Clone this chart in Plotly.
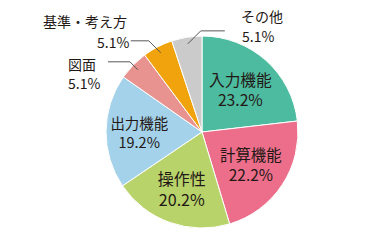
import math
import plotly.graph_objects as go

labels = ["入力機能", "計算機能", "操作性", "出力機能", "図面", "基準・考え方", "その他"]
values = [23.2, 22.2, 20.2, 19.2, 5.1, 5.1, 5.1]
colors = ["#4dbb9f", "#ec6e8a", "#b9d36b", "#a3d2ea", "#e8938f", "#f0a30c", "#cbcbcb"]
outside = ["図面", "基準・考え方", "その他"]

W, H = 389, 250
CX, CY, R = 202, 132, 96
FONT = "Noto Sans CJK JP"
TXT = "#231815"


def px2paper(x, y):
    return x / W, 1 - y / H


texttemplates = []
for lab in labels:
    texttemplates.append("" if lab in outside else "%{label}<br>%{value:.1f}%")

fig = go.Figure(go.Pie(
    labels=labels, values=values, sort=False, direction="clockwise", rotation=0,
    marker=dict(colors=colors, line=dict(color="white", width=1)),
    texttemplate=texttemplates,
    textposition=["none" if l in outside else "inside" for l in labels],
    insidetextorientation="horizontal",
    textfont=dict(family=FONT, size=16, color=TXT),
    domain=dict(x=[(CX - R) / W, (CX + R) / W], y=[1 - (CY + R) / H, 1 - (CY - R) / H]),
    showlegend=False, hoverinfo="label+percent",
))

# leader-line style per outside label: elbow offset, horizontal run, text anchors
style = {
    "その他": dict(elbow=(13, -13), run=24, name=(239, 16), pct=(240, 36), xanchor="left"),
    "基準・考え方": dict(elbow=(-12, -12), run=-18, name=(129, 21), pct=(131, 42), xanchor="right"),
    "図面": dict(elbow=(-8, -8), run=-22, name=(66, 64), pct=(66, 83), xanchor="left"),
}

total = sum(values)
cum = 0
shapes, annotations = [], []
for lab, v in zip(labels, values):
    mid = (cum + v / 2) / total
    cum += v
    if lab not in outside:
        continue
    s = style[lab]
    ang = 2 * math.pi * mid
    ax = CX + 0.93 * R * math.sin(ang)
    ay = CY - 0.93 * R * math.cos(ang)
    ex, ey = ax + s["elbow"][0], ay + s["elbow"][1]
    hx = ex + s["run"]
    p = [px2paper(ax, ay), px2paper(ex, ey), px2paper(hx, ey)]
    path = "M {} {} L {} {} L {} {}".format(p[0][0], p[0][1], p[1][0], p[1][1], p[2][0], p[2][1])
    shapes.append(dict(type="path", path=path, xref="paper", yref="paper",
                       line=dict(color="#595757", width=1)))
    for txt, pos in ((lab, s["name"]), (f"{v:.1f}%", s["pct"])):
        tx, ty = px2paper(*pos)
        annotations.append(dict(text=txt, x=tx, y=ty, xref="paper", yref="paper",
                                xanchor=s["xanchor"], yanchor="middle",
                                showarrow=False, font=dict(family=FONT, size=14, color=TXT)))

fig.update_layout(
    width=W, height=H, margin=dict(l=0, r=0, t=0, b=0),
    paper_bgcolor="white", plot_bgcolor="white",
    shapes=shapes, annotations=annotations,
)
fig.write_html("out.html")
